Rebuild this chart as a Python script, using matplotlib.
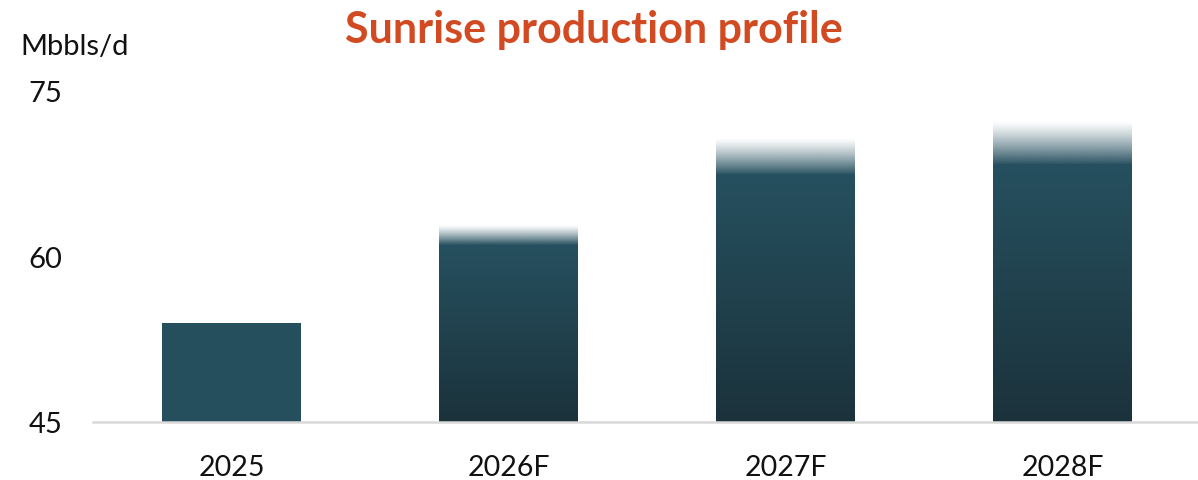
import numpy as np
import matplotlib
matplotlib.use("Agg")
import matplotlib.pyplot as plt
from matplotlib.colors import to_rgb

categories = ["2025", "2026F", "2027F", "2028F"]
low_values = [54.0, 61.0, 67.4, 68.3]
high_values = [54.0, 62.8, 70.7, 72.2]
forecast = [False, True, True, True]
y_ticks = [45, 60, 75]

title_text = "Sunrise production profile"
unit_text = "Mbbls/d"

plt.rcParams['font.family'] = ['Lato', 'DejaVu Sans']

fig = plt.figure(figsize=(11.98, 4.81), dpi=100)
ax = fig.add_axes([93/1198, (481-423)/481, 1108/1198, (423-92)/481])
ax.set_xlim(-0.5, len(categories) - 0.5)
ax.set_ylim(45, 75)

main = np.array(to_rgb("#26505F"))
dark = np.array(to_rgb("#1B323B"))
width = 0.5
base = 45

for i, (lo, hi, fc) in enumerate(zip(low_values, high_values, forecast)):
    x0, x1 = i - width / 2, i + width / 2
    if not fc:
        ax.bar(i, lo - base, bottom=base, width=width, color="#264F5E", zorder=2)
        continue
    n = 256
    t = np.linspace(0, 1, n)[:, None]
    rgb = dark[None, :] * (1 - t) + main[None, :] * t
    img = np.concatenate([rgb, np.ones((n, 1))], axis=1)[:, None, :]
    ax.imshow(img, extent=(x0, x1, base, lo), origin="lower", aspect="auto",
              interpolation="bilinear", zorder=2)
    a = (1 - np.linspace(0, 1, n)) ** 1.2
    fade = np.zeros((n, 1, 4))
    fade[:, 0, :3] = main
    fade[:, 0, 3] = a
    ax.imshow(fade, extent=(x0, x1, lo, hi), origin="lower", aspect="auto",
              interpolation="bilinear", zorder=2)

ax.set_xlim(-0.5, len(categories) - 0.5)
ax.set_ylim(45, 75)
ax.set_xticks(range(len(categories)))
ax.set_xticklabels(categories, fontsize=20.5, color="#111111")
ax.set_yticks(y_ticks)
ax.set_yticklabels([str(v) for v in y_ticks], fontsize=21, color="#111111")
ax.tick_params(axis="both", length=0)
ax.tick_params(axis="x", pad=23)
ax.tick_params(axis="y", pad=22)
for s in ["top", "right", "left"]:
    ax.spines[s].set_visible(False)
ax.spines["bottom"].set_color("#D9D9D9")
ax.spines["bottom"].set_linewidth(1.8)
ax.spines["bottom"].set_zorder(3)

fig.text(20/1198, 1 - 55/481, unit_text, fontsize=21, color="#111111",
         ha="left", va="baseline")
fig.text(594/1198, 1 - 43/481, title_text, fontsize=31, fontweight="bold",
         color="#D24A22", ha="center", va="baseline")

fig.savefig("out.png", dpi=100, facecolor="white")
